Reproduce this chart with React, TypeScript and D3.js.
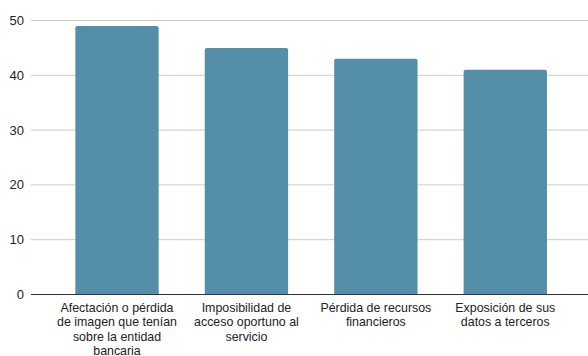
import React from "react";
import * as d3 from "d3";

const categories = [
  "Afectación o pérdida\nde imagen que tenían\nsobre la entidad\nbancaria",
  "Imposibilidad de\nacceso oportuno al\nservicio",
  "Pérdida de recursos\nfinancieros",
  "Exposición de sus\ndatos a terceros",
];
const values = [49, 45, 43, 41];
const yTicks = [0, 10, 20, 30, 40, 50];

const W = 588;
const H = 356;

export default function App() {
  const x = d3
    .scaleBand<string>()
    .domain(categories)
    .range([52.3, 570])
    .paddingInner(0.356)
    .paddingOuter(0.178);
  const y = d3.scaleLinear().domain([0, 50]).range([294.5, 20.5]);
  const font = "Arial, 'Liberation Sans', sans-serif";
  const r = 2;

  return (
    <svg
      width={W}
      height={H}
      style={{ position: "absolute", left: 0, top: 0, background: "#fff" }}
    >
      {yTicks.map((t) => (
        <g key={t}>
          {t !== 0 && (
            <line x1={31} x2={W} y1={y(t)} y2={y(t)} stroke="#cccccc" strokeWidth={1} />
          )}
          <text
            x={24}
            y={y(t)}
            dy="0.35em"
            textAnchor="end"
            fontFamily={font}
            fontSize={13}
            fill="#222"
          >
            {t}
          </text>
        </g>
      ))}
      {categories.map((c, i) => {
        const x0 = x(c)!;
        const bw = x.bandwidth();
        const y0 = y(values[i]);
        const y1 = y(0);
        const d = `M${x0},${y1} L${x0},${y0 + r} Q${x0},${y0} ${x0 + r},${y0} L${x0 + bw - r},${y0} Q${x0 + bw},${y0} ${x0 + bw},${y0 + r} L${x0 + bw},${y1} Z`;
        return <path key={c} d={d} fill="#548ea9" />;
      })}
      <line x1={31} x2={W} y1={y(0)} y2={y(0)} stroke="#333" strokeWidth={1} />
      {categories.map((c) => {
        const cx = x(c)! + x.bandwidth() / 2;
        return (
          <text
            key={c}
            x={cx}
            textAnchor="middle"
            fontFamily={font}
            fontSize={12.4}
            fill="#222"
          >
            {c.split("\n").map((line, j) => (
              <tspan key={j} x={cx} y={312.3 + j * 14.1}>
                {line}
              </tspan>
            ))}
          </text>
        );
      })}
    </svg>
  );
}
